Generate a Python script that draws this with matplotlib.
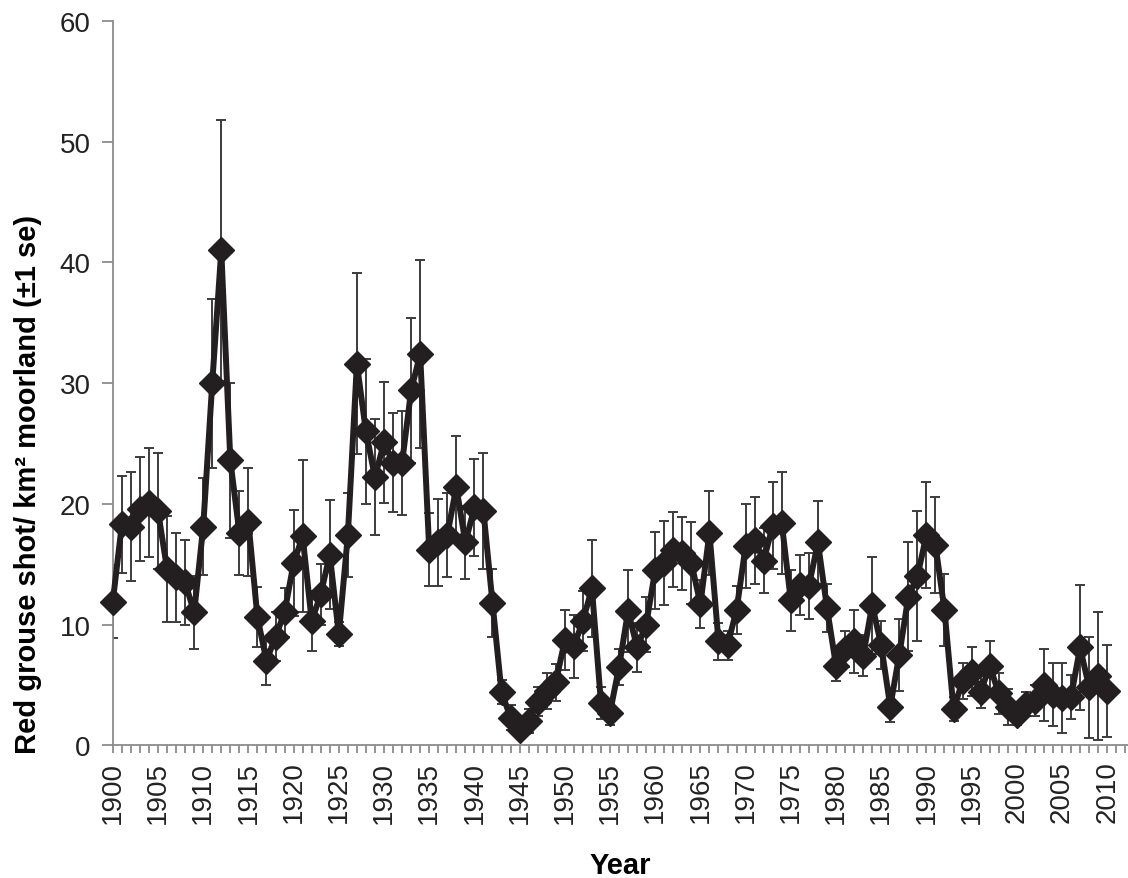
import matplotlib.pyplot as plt
import numpy as np

plt.rcParams['font.family'] = ['Liberation Sans', 'DejaVu Sans']

years = np.arange(1900, 2011)
grouse = [11.9, 18.3, 18.1, 19.6, 20.1, 19.4, 14.6, 13.9, 13.5, 11.0,
          18.1, 30.0, 41.0, 23.6, 17.6, 18.5, 10.6, 7.0, 9.0, 11.0,
          15.1, 17.3, 10.3, 12.5, 15.8, 9.2, 17.4, 31.6, 26.0, 22.2,
          25.1, 23.4, 23.4, 29.4, 32.4, 16.2, 16.8, 17.4, 21.4, 16.8,
          19.7, 19.4, 11.8, 4.4, 2.3, 1.3, 2.0, 3.6, 4.5, 5.2,
          8.7, 8.2, 10.3, 13.0, 3.5, 2.7, 6.5, 11.1, 8.1, 10.0,
          14.5, 15.1, 16.2, 15.9, 15.1, 11.7, 17.6, 8.6, 8.3, 11.2,
          16.5, 17.0, 15.3, 18.2, 18.4, 12.0, 13.3, 13.2, 16.8, 11.4,
          6.6, 8.0, 8.6, 7.4, 11.6, 8.3, 3.2, 7.5, 12.3, 14.0,
          17.4, 16.6, 11.2, 3.0, 5.3, 6.1, 4.4, 6.6, 4.3, 3.2,
          2.5, 3.4, 3.7, 5.0, 4.2, 3.9, 4.0, 8.1, 4.8, 5.7,
          4.5]
se = [3.0, 4.0, 4.5, 4.3, 4.5, 4.8, 4.4, 3.7, 3.5, 3.0,
      4.0, 7.0, 10.8, 6.4, 3.5, 4.5, 2.5, 2.0, 2.0, 2.0,
      4.4, 6.3, 2.5, 2.5, 4.5, 1.0, 3.5, 7.5, 6.0, 4.8,
      5.0, 4.1, 4.3, 6.0, 7.8, 3.0, 3.6, 3.5, 4.2, 3.0,
      4.0, 4.8, 2.8, 1.0, 1.0, 0.7, 1.0, 1.2, 1.5, 1.5,
      2.5, 2.6, 2.5, 4.0, 1.3, 1.0, 1.5, 3.4, 2.0, 2.3,
      3.2, 3.5, 3.1, 3.0, 3.4, 2.0, 3.5, 1.5, 1.2, 2.0,
      3.5, 3.6, 2.7, 3.6, 4.2, 2.5, 2.5, 2.7, 3.4, 2.0,
      1.3, 1.5, 2.6, 1.7, 4.0, 2.0, 1.3, 3.0, 4.5, 5.4,
      4.4, 4.0, 3.0, 1.0, 1.5, 2.0, 1.3, 2.0, 1.7, 1.5,
      0.8, 1.0, 1.3, 3.0, 2.6, 2.9, 1.8, 5.2, 4.2, 5.3,
      3.8]

fig = plt.figure(figsize=(11.28, 8.79), dpi=100)
ax = fig.add_axes([0.1, 0.151, 0.9, 0.824])

ax.errorbar(years, grouse, yerr=se, fmt='none', ecolor='#3c3c3c',
            elinewidth=1.4, capsize=3.5, capthick=1.4, zorder=2)
ax.plot(years, grouse, color='#231f20', lw=4.3, marker='D', ms=13.5,
        mec='#231f20', mfc='#231f20', zorder=3, clip_on=False)

ax.set_xlim(1900, 2012.3)
ax.set_ylim(0, 60)
ax.set_xticks(np.arange(1900, 2011, 5))
ax.set_xticks(np.arange(1900, 2013), minor=True)
ax.set_yticks(np.arange(0, 61, 10))

for s in ['top', 'right']:
    ax.spines[s].set_visible(False)
for s in ['left', 'bottom']:
    ax.spines[s].set_color('#8c8c8c')
    ax.spines[s].set_linewidth(1.3)

ax.tick_params(axis='x', which='both', direction='out', length=6,
               color='#8c8c8c', width=1.3)
ax.tick_params(axis='x', which='major', labelsize=20, labelrotation=90,
               labelcolor='#222222', pad=5)
ax.tick_params(axis='y', direction='out', length=8, color='#8c8c8c',
               width=1.3, labelsize=20, labelcolor='#222222', pad=8)

ax.set_xlabel('Year', fontsize=21, fontweight='bold')
ax.xaxis.set_label_coords(0.5, -0.146)
ax.set_ylabel('Red grouse shot/ km² moorland (±1 se)', fontsize=21,
              fontweight='bold')
ax.yaxis.set_label_coords(-0.070, 0.362)

fig.savefig('out.png', dpi=100)
